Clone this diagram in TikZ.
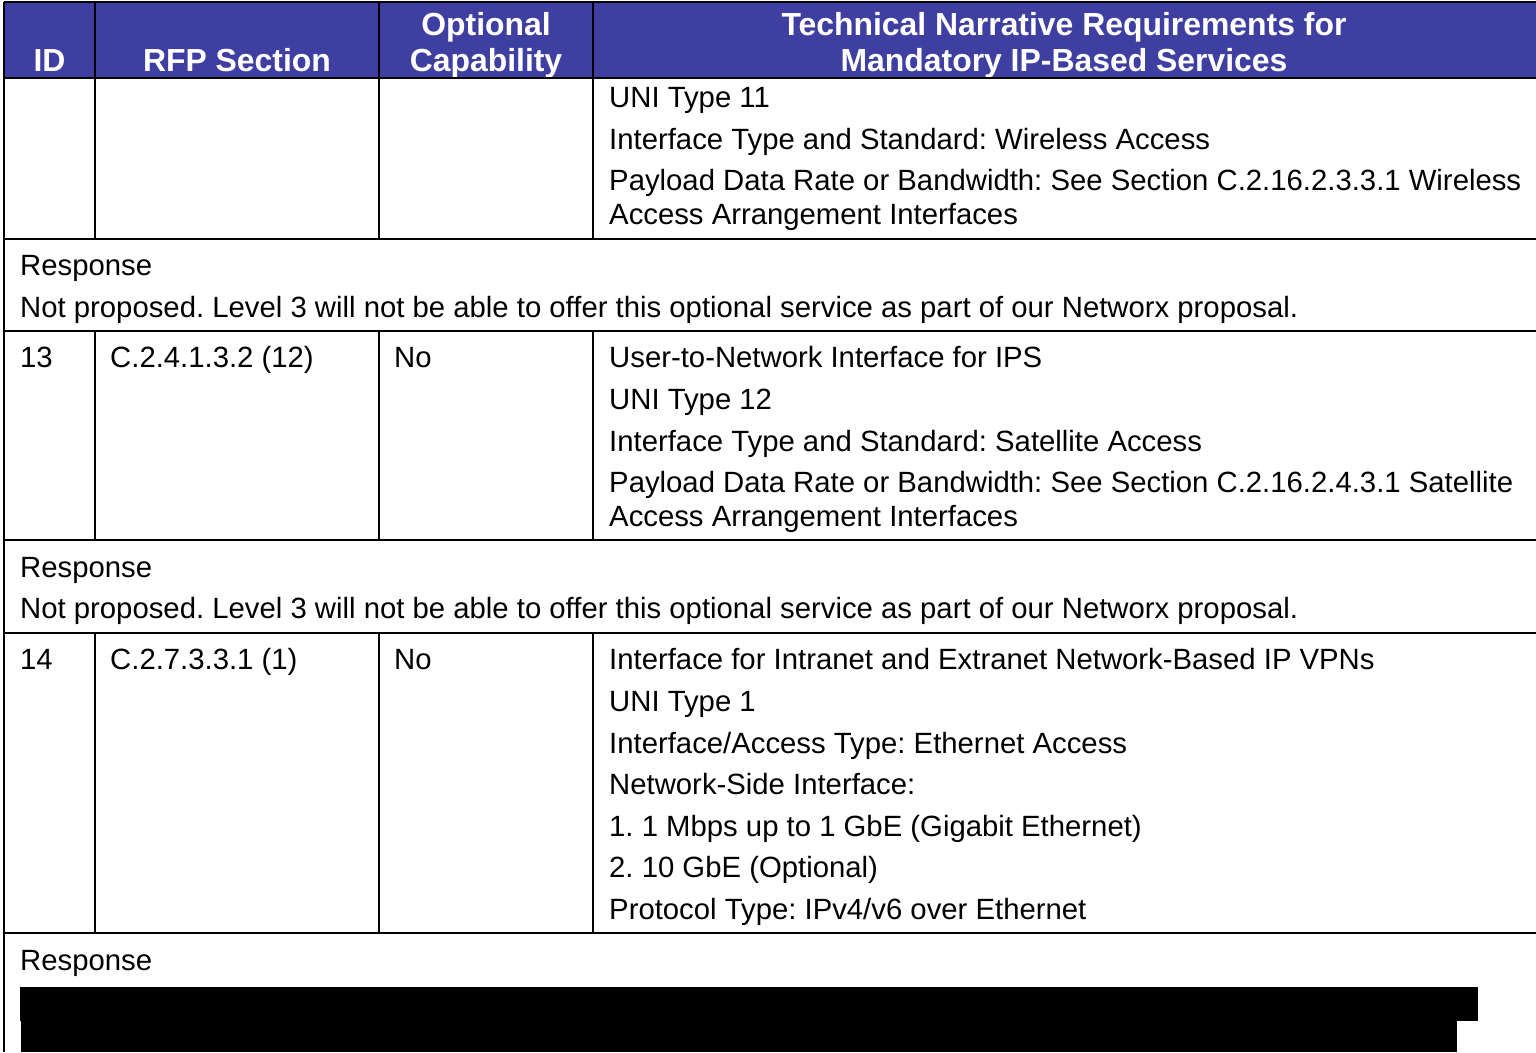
\documentclass[tikz,border=0pt]{standalone}
\usepackage{fontspec}
\setmainfont{Liberation Sans}
\frenchspacing
\definecolor{hdrblue}{RGB}{63,63,161}
\begin{document}
\begin{tikzpicture}[x=1pt,y=-1pt,
  grid/.style={line width=2pt,black},
  txt/.style={anchor=base west,inner sep=0pt,font=\fontsize{29.3}{34}\selectfont},
  hdr/.style={anchor=base,inner sep=0pt,text=white,font=\bfseries\fontsize{31.9}{36}\selectfont},
  redact/.style={fill=black,draw=none}]
\useasboundingbox (0,0) rectangle (1536,1052);
% header
\fill[hdrblue] (4,2) rectangle (1536,78);
\node[hdr] (hID) at (49.5,71) {ID};
\node[hdr] (hRFP) at (237,71) {RFP Section};
\node[hdr] (hOpt1) at (486,35) {Optional};
\node[hdr] (hOpt2) at (486,71) {Capability};
\node[hdr] (hTec1) at (1064,35) {Technical Narrative Requirements for};
\node[hdr] (hTec2) at (1064,71) {Mandatory IP-Based Services};
% grid
\draw[grid] (4,2) -- (1536,2);
\foreach \y in {78,239,331,540,633,933} \draw[grid] (4,\y) -- (1536,\y);
\draw[grid] (4,2) -- (4,1052);
\foreach \x in {95,379,593} {
  \draw[grid] (\x,2) -- (\x,239);
  \draw[grid] (\x,331) -- (\x,540);
  \draw[grid] (\x,633) -- (\x,933);
}
% row 12 (continued)
\node[txt] (a1) at (609,107) {UNI Type 11};
\node[txt] (a2) at (609,149) {Interface Type and Standard: Wireless Access};
\node[txt] (a3) at (609,190) {Payload Data Rate or Bandwidth: See Section C.2.16.2.3.3.1 Wireless};
\node[txt] (a4) at (609,224) {Access Arrangement Interfaces};
\node[txt] (ra1) at (20,275) {Response};
\node[txt] (ra2) at (20,317) {Not proposed. Level 3 will not be able to offer this optional service as part of our Networx proposal.};
% row 13
\node[txt] (b0) at (20,367) {13};
\node[txt] (b00) at (110,367) {C.2.4.1.3.2 (12)};
\node[txt] (b000) at (394,367) {No};
\node[txt] (b1) at (609,367) {User-to-Network Interface for IPS};
\node[txt] (b2) at (609,409) {UNI Type 12};
\node[txt] (b3) at (609,451) {Interface Type and Standard: Satellite Access};
\node[txt] (b4) at (609,492) {Payload Data Rate or Bandwidth: See Section C.2.16.2.4.3.1 Satellite};
\node[txt] (b5) at (609,526) {Access Arrangement Interfaces};
\node[txt] (rb1) at (20,577) {Response};
\node[txt] (rb2) at (20,618) {Not proposed. Level 3 will not be able to offer this optional service as part of our Networx proposal.};
% row 14
\node[txt] (c0) at (20,669) {14};
\node[txt] (c00) at (110,669) {C.2.7.3.3.1 (1)};
\node[txt] (c000) at (394,669) {No};
\node[txt] (c1) at (609,669) {Interface for Intranet and Extranet Network-Based IP VPNs};
\node[txt] (c2) at (609,711) {UNI Type 1};
\node[txt] (c3) at (609,753) {Interface/Access Type: Ethernet Access};
\node[txt] (c4) at (609,794) {Network-Side Interface:};
\node[txt] (c5) at (609,836) {1. 1 Mbps up to 1 GbE (Gigabit Ethernet)};
\node[txt] (c6) at (609,877) {2. 10 GbE (Optional)};
\node[txt] (c7) at (609,919) {Protocol Type: IPv4/v6 over Ethernet};
\node[txt] (rc1) at (20,970) {Response};
% redaction bars
\fill[redact] (20,987) rectangle (1478,1021);
\fill[redact] (21,1021) rectangle (1457,1052);
\end{tikzpicture}
\end{document}
